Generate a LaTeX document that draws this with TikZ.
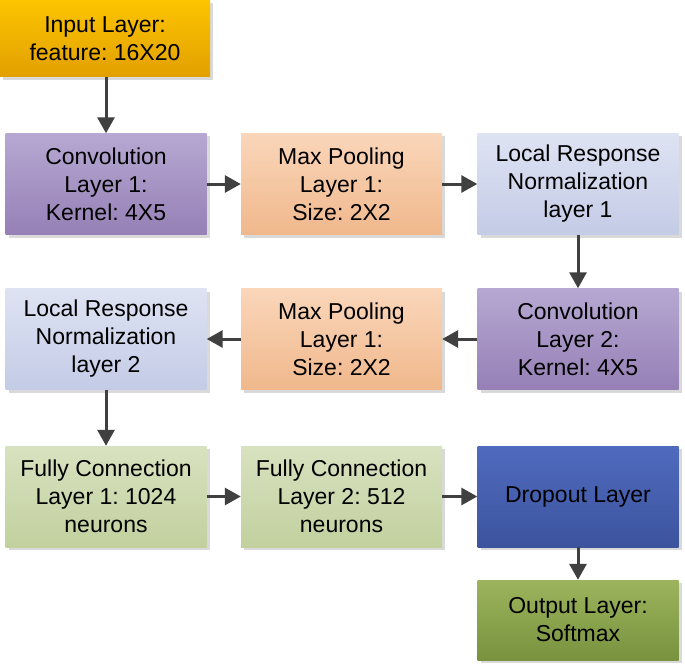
\documentclass[tikz,border=0pt]{standalone}
\usepackage{fontspec}
\setmainfont{Liberation Sans}
\frenchspacing
\usetikzlibrary{arrows.meta,shadows}
\definecolor{inT}{RGB}{252,196,0}
\definecolor{inB}{RGB}{226,160,0}
\definecolor{cvT}{RGB}{182,168,210}
\definecolor{cvB}{RGB}{150,128,182}
\definecolor{mpT}{RGB}{250,214,186}
\definecolor{mpB}{RGB}{240,184,140}
\definecolor{lrT}{RGB}{222,227,243}
\definecolor{lrB}{RGB}{196,203,230}
\definecolor{fcT}{RGB}{216,226,192}
\definecolor{fcB}{RGB}{194,208,158}
\definecolor{dpT}{RGB}{80,106,190}
\definecolor{dpB}{RGB}{60,84,158}
\definecolor{otT}{RGB}{156,180,92}
\definecolor{otB}{RGB}{120,146,62}
\definecolor{arr}{RGB}{64,64,64}
\tikzset{
  box/.style={draw=none, minimum width=201pt, minimum height=101pt, inner sep=0pt,
    align=center, text=black, font=\fontsize{23}{28}\selectfont\frenchspacing,
    drop shadow={shadow xshift=3pt, shadow yshift=-3pt, fill=black, opacity=0.15}},
  inbox/.style={box, top color=inT, bottom color=inB},
  cvbox/.style={box, top color=cvT, bottom color=cvB},
  mpbox/.style={box, top color=mpT, bottom color=mpB},
  lrbox/.style={box, top color=lrT, bottom color=lrB},
  fcbox/.style={box, top color=fcT, bottom color=fcB},
  dpbox/.style={box, top color=dpT, bottom color=dpB},
  otbox/.style={box, top color=otT, bottom color=otB},
  conn/.style={draw=arr, line width=3pt, -{Triangle[length=16pt,width=17pt]}}
}
\begin{document}
\begin{tikzpicture}[x=1pt,y=-1pt]
\useasboundingbox (0,0) rectangle (685,666);
\node[inbox, minimum width=210pt, minimum height=77pt] (in) at (105,38.5) {Input Layer:\\feature: 16X20};
\node[cvbox] (c1) at (106,184) {Convolution\\Layer 1:\\Kernel: 4X5};
\node[mpbox] (m1) at (341.5,184) {Max Pooling\\Layer 1:\\Size: 2X2};
\node[lrbox] (l1) at (578,184) {Local Response\\Normalization\\layer 1};
\node[lrbox] (l2) at (106,339) {Local Response\\Normalization\\layer 2};
\node[mpbox] (m2) at (341.5,339) {Max Pooling\\Layer 1:\\Size: 2X2};
\node[cvbox] (c2) at (578,339) {Convolution\\Layer 2:\\Kernel: 4X5};
\node[fcbox] (f1) at (106,496.5) {Fully Connection\\Layer 1: 1024\\neurons};
\node[fcbox] (f2) at (341.5,496.5) {Fully Connection\\Layer 2: 512\\neurons};
\node[dpbox] (dp) at (578,496.5) {Dropout Layer};
\node[otbox, minimum height=80pt] (out) at (578,620) {Output Layer:\\Softmax};
\draw[conn] (in.south -| c1.north) -- (c1.north);
\draw[conn] (c1) -- (m1);
\draw[conn] (m1) -- (l1);
\draw[conn] (l1) -- (c2);
\draw[conn] (c2) -- (m2);
\draw[conn] (m2) -- (l2);
\draw[conn] (l2) -- (f1);
\draw[conn] (f1) -- (f2);
\draw[conn] (f2) -- (dp);
\draw[conn] (dp) -- (out);
\end{tikzpicture}
\end{document}
